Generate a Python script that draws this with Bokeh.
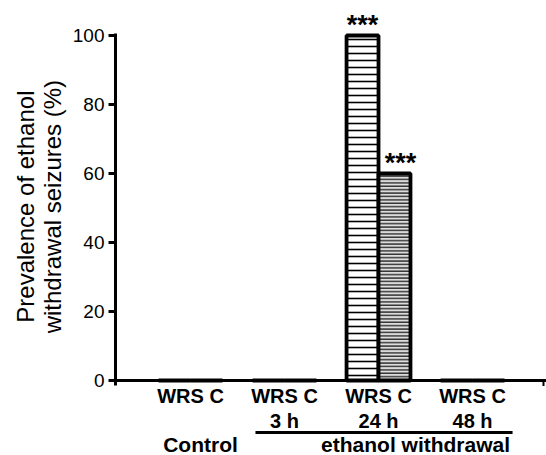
import math
from bokeh.plotting import figure
from bokeh.models import Range1d, FixedTicker
from bokeh.core.properties import value
from bokeh.embed import file_html
from bokeh.resources import INLINE

# ---- data ----
groups = ["Control", "3 h", "24 h", "48 h"]
time_labels = ["", "3 h", "24 h", "48 h"]
bar_labels = ["WRS C", "WRS C", "WRS C", "WRS C"]
wrs_values = [0, 0, 100, 0]
c_values = [0, 0, 60, 0]
signif_wrs = ["", "", "***", ""]
signif_c = ["", "", "***", ""]
y_ticks = [0, 20, 40, 60, 80, 100]
group_titles = ["Control", "ethanol withdrawal"]
y_title = ["Prevalence of ethanol", "withdrawal seizures (%)"]

FONT = "Liberation Sans"
W, H = 546, 455
BW = 0.34
xg = list(range(len(groups)))
x_wrs = [g - BW / 2 for g in xg]
x_c = [g + BW / 2 for g in xg]

XL, X0, X1 = -2.0213, -0.798, 3.787
p = figure(width=W, height=H,
           x_range=Range1d(XL, X1), y_range=Range1d(-21.74, 110.14),
           x_axis_type=None, output_backend="svg", toolbar_location=None,
           min_border=0)
p.outline_line_color = None
p.grid.grid_line_color = None
p.background_fill_color = "white"

ya = p.yaxis[0]
ya.fixed_location = X0
ya.ticker = FixedTicker(ticks=y_ticks)
ya.bounds = (-1.5, 100.5)
ya.axis_line_width = 3
ya.major_tick_line_width = 3
ya.major_tick_out = 7
ya.major_tick_in = 0
ya.minor_tick_line_color = None
ya.major_label_text_font = FONT
ya.major_label_text_font_size = "19px"
ya.major_label_text_color = "black"
ya.major_label_standoff = 4

# y-axis title (two lines, rotated)
p.text(x=[-1.755, -1.473], y=[50.4, 50.4], text=y_title, angle=math.pi / 2,
       text_align="center", text_baseline="middle", text_font=value(FONT),
       text_font_size="24px", text_color="black")

# x axis line at zero with end tick
p.segment(x0=[X0], y0=[0], x1=[X1], y1=[0], line_color="black", line_width=3)
p.segment(x0=[3.755], y0=[0], x1=[3.755], y1=[-1.6], line_color="black", line_width=2)

# bars
p.vbar(x=x_wrs, width=BW, top=wrs_values, bottom=0, fill_color="white",
       line_color="black", line_width=3.8, hatch_pattern="-", hatch_scale=7,
       hatch_weight=1.6, hatch_color="black")
p.vbar(x=x_c, width=BW, top=c_values, bottom=0, fill_color="#dddddd",
       line_color="black", line_width=3.8, hatch_pattern="-", hatch_scale=3.4,
       hatch_weight=1.5, hatch_color="#333333")

# significance stars
p.text(x=x_wrs, y=wrs_values, text=signif_wrs, text_align="center",
       text_baseline="alphabetic", y_offset=-10, text_font=value(FONT),
       text_font_style="bold", text_font_size="27px", text_color="black")
p.text(x=x_c, y=c_values, text=signif_c, text_align="center",
       text_baseline="alphabetic", y_offset=-10, x_offset=6, text_font=value(FONT),
       text_font_style="bold", text_font_size="27px", text_color="black")

# category labels
p.text(x=xg, y=[-4.35] * len(xg), text=bar_labels, text_align="center",
       text_baseline="middle", text_font=value(FONT), text_font_style="bold",
       text_font_size="20px", text_color="black")
p.text(x=xg, y=[-11.88] * len(xg), text=time_labels, text_align="center",
       text_baseline="middle", text_font=value(FONT), text_font_style="bold",
       text_font_size="20px", text_color="black")

# group bracket line and group titles
p.segment(x0=[0.691], y0=[-15.07], x1=[3.426], y1=[-15.07], line_color="black", line_width=3)
p.text(x=[0.106, 2.394], y=[-18.6, -18.6], text=group_titles, text_align="center",
       text_baseline="middle", text_font=value(FONT), text_font_style="bold",
       text_font_size="21px", text_color="black")

open("out.html", "w").write(file_html(p, INLINE))
